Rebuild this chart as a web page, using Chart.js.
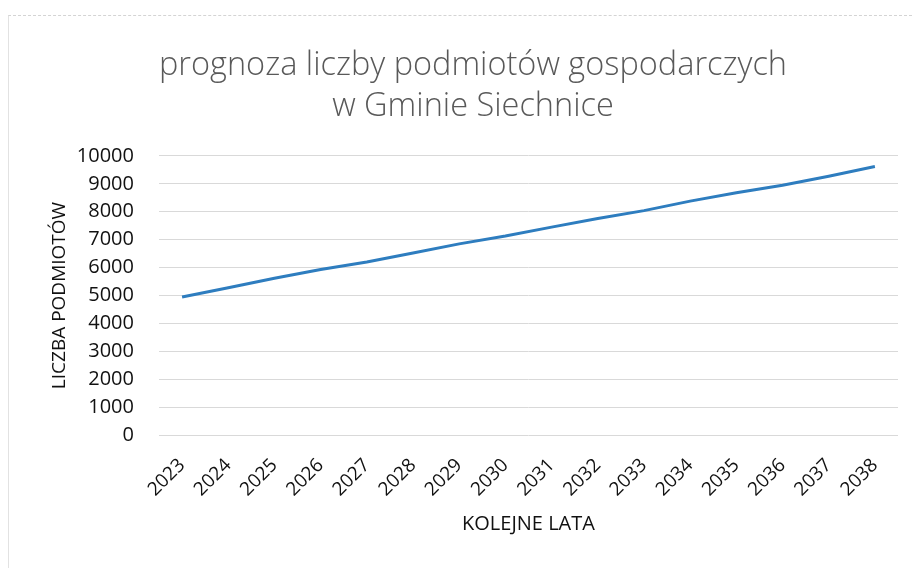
<!DOCTYPE html>
<html>
	<head>
		<meta charset="UTF-8" />
		<title>prognoza liczby podmiotów gospodarczych</title>
		<script src="https://cdn.jsdelivr.net/npm/chart.js@4"></script>
		<style type="text/css">
			body { margin: 0; background: #ffffff; }
			.chartBox {
				position: relative;
				width: 912px;
				height: 568px;
			}
			.frame {
				position: absolute;
				left: 8px; top: 15px; right: 0; bottom: 0;
				border-left: 1px solid #e2e2e2;
				border-top: 1px dashed #d4d4d4;
			}
			#myChart { position: absolute; left: 0; top: 0; }
		</style>
	</head>
	<body>
		<div class="chartBox">
			<div class="frame"></div>
			<canvas id="myChart" width="912" height="568"></canvas>
		</div>

		<script>
			// lata prognozy
			const years = ['2023', '2024', '2025', '2026', '2027', '2028', '2029', '2030',
				'2031', '2032', '2033', '2034', '2035', '2036', '2037', '2038'];
			// liczba podmiotow
			const companies = [4950, 5280, 5620, 5930, 6200, 6520, 6850, 7130,
				7450, 7760, 8040, 8380, 8680, 8950, 9270, 9620];
			const titleLines = ['prognoza liczby podmiotów gospodarczych', 'w Gminie Siechnice'];
			const yTitle = 'LICZBA PODMIOTÓW';
			const xTitle = 'KOLEJNE LATA';
		</script>

		<script>
		const ctx = document.getElementById('myChart').getContext('2d');

		const config = {
			type: 'line',
			data: {
				labels: years,
				datasets: [{
					label: 'podmioty',
					borderColor: '#2e7dbf',
					borderWidth: 3,
					radius: 0,
					tension: 0,
					data: companies,
				}]
			},
			options: {
				responsive: false,
				animation: false,
				layout: {
					padding: { left: 48, right: 14, top: 45, bottom: 28 }
				},
				plugins: {
					legend: { display: false },
					tooltip: { enabled: false },
					title: {
						display: true,
						text: titleLines,
						color: '#595959',
						font: { family: 'Open Sans', size: 32.5, weight: '300', lineHeight: 1.26 },
						padding: { top: 0, bottom: 29 }
					}
				},
				scales: {
					x: {
						offset: true,
						grid: { display: false },
						border: { display: false },
						ticks: {
							color: '#111',
							font: { family: 'Open Sans', size: 19 },
							minRotation: 45,
							maxRotation: 45,
							padding: 11
						},
						title: {
							display: true,
							text: xTitle,
							color: '#111',
							font: { family: 'Open Sans', size: 20 },
							padding: { top: 0 }
						}
					},
					y: {
						min: 0,
						max: 10000,
						ticks: {
							stepSize: 1000,
							color: '#111',
							font: { family: 'Open Sans', size: 20 },
							padding: 25,
							callback: (v) => String(v)
						},
						grid: { color: '#d9d9d9', drawTicks: false },
						border: { display: false },
						title: {
							display: true,
							text: yTitle,
							color: '#111',
							font: { family: 'Open Sans', size: 19 },
							// tick padding is counted twice in the axis width, take it back here
							padding: { top: 0, bottom: -19 }
						}
					}
				}
			}
		};

		const myChart = new Chart(ctx, config);
		</script>
	</body>
</html>
